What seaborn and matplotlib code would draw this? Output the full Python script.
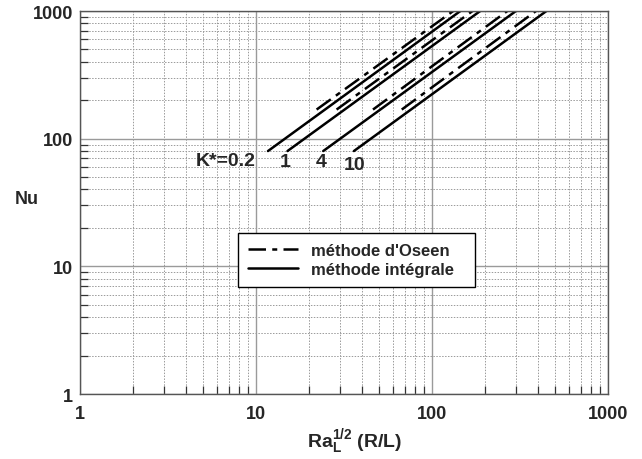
import matplotlib
matplotlib.use("Agg")
import matplotlib.pyplot as plt
import seaborn as sns
import pandas as pd
from matplotlib.lines import Line2D
from matplotlib.ticker import LogLocator, FixedLocator, NullFormatter

# ---- data (line end points) ----
k_labels = ["0.2", "1", "4", "10"]
# méthode intégrale (solid)
int_x_start = [11.7, 15.1, 24.1, 36.0]
int_nu_start = [80, 80, 80, 80]
int_x_end = [145, 188, 300, 447]
int_nu_end = [1000, 1000, 1000, 1000]
# méthode d'Oseen (dash-dot)
os_x_start = [22.1, 28.7, 46.2, 67.3]
os_nu_start = [169, 169, 169, 169]
os_x_end = [132, 170, 268, 390]
os_nu_end = [1000, 1000, 1000, 1000]

label_texts = ["K*=0.2", "1", "4", "10"]
label_x = [6.7, 14.6, 23.4, 36.5]
label_y = [68, 66, 66, 63]

rows = []
for i, k in enumerate(k_labels):
    rows.append(dict(x=int_x_start[i], Nu=int_nu_start[i], K=k, method="intégrale"))
    rows.append(dict(x=int_x_end[i], Nu=int_nu_end[i], K=k, method="intégrale"))
    rows.append(dict(x=os_x_start[i], Nu=os_nu_start[i], K=k, method="Oseen"))
    rows.append(dict(x=os_x_end[i], Nu=os_nu_end[i], K=k, method="Oseen"))
df = pd.DataFrame(rows)
df["unit"] = df["K"] + df["method"]

sns.set_theme(style="white")
plt.rcParams["font.family"] = ["Liberation Sans", "DejaVu Sans"]
plt.rcParams["font.weight"] = "bold"
plt.rcParams["mathtext.fontset"] = "custom"
plt.rcParams["mathtext.rm"] = "Liberation Sans:bold"
plt.rcParams["mathtext.bf"] = "Liberation Sans:bold"
plt.rcParams["mathtext.it"] = "Liberation Sans:bold"

fig = plt.figure(figsize=(6.42, 4.6), dpi=100)
ax = fig.add_axes([80 / 642, 1 - 395 / 460, 528 / 642, 383 / 460])

dash_os = (7, 2.5, 2, 2.5)
sns.lineplot(data=df, x="x", y="Nu", style="method", units="unit", estimator=None,
             dashes={"Oseen": dash_os, "intégrale": ""}, color="black",
             linewidth=1.8, legend=False, ax=ax, sort=False)

ax.set_xscale("log")
ax.set_yscale("log")
ax.set_xlim(1, 1000)
ax.set_ylim(1, 1000)

ax.xaxis.set_major_locator(FixedLocator([1, 10, 100, 1000]))
ax.yaxis.set_major_locator(FixedLocator([1, 10, 100, 1000]))
ax.set_xticklabels(["1", "10", "100", "1000"])
ax.set_yticklabels(["1", "10", "100", "1000"])
ax.xaxis.set_minor_locator(LogLocator(base=10, subs=range(2, 10)))
ax.yaxis.set_minor_locator(LogLocator(base=10, subs=range(2, 10)))
ax.xaxis.set_minor_formatter(NullFormatter())
ax.yaxis.set_minor_formatter(NullFormatter())

ax.grid(True, which="major", color="#9a9a9a", linewidth=1.0, linestyle="-")
ax.grid(True, which="minor", color="#9a9a9a", linewidth=0.7, linestyle=(0, (1.5, 1.5)))
ax.set_axisbelow(True)

ax.tick_params(which="major", direction="in", length=0, labelsize=13)
ax.tick_params(axis="x", which="major", pad=8)
ax.tick_params(axis="y", which="major", pad=5)
ax.tick_params(which="minor", direction="in", length=6, width=0.9, color="#333333",
               left=True, bottom=True)
for lab in ax.get_xticklabels() + ax.get_yticklabels():
    lab.set_fontweight("bold")

for s in ax.spines.values():
    s.set_color("#555555")
    s.set_linewidth(1.0)

ax.set_ylabel("Nu", rotation=0, fontsize=13, fontweight="bold", va="center", ha="center")
ax.yaxis.set_label_coords(-0.1, 0.51)
ax.set_xlabel(r"$\mathbf{Ra}_{\mathbf{L}}^{\mathbf{1/2}}$ (R/L)", fontsize=14,
              fontweight="bold", labelpad=3)
ax.xaxis.set_label_coords(0.52, -0.085)

for t, xx, yy in zip(label_texts, label_x, label_y):
    ax.text(xx, yy, t, fontsize=14, fontweight="bold", ha="center", va="center")

handles = [Line2D([], [], color="black", lw=1.8, linestyle=(0, dash_os)),
           Line2D([], [], color="black", lw=1.8, linestyle="-")]
leg = ax.legend(handles, ["méthode d'Oseen", "méthode intégrale"],
                loc="center", bbox_to_anchor=(0.299, 0.274, 0.449, 0.152),
                mode="expand", frameon=True, fancybox=False, framealpha=1,
                edgecolor="black", prop=dict(size=12, weight="bold"),
                handlelength=3.0, borderaxespad=0, labelspacing=0.2,
                borderpad=0.6)
leg.get_frame().set_linewidth(1.0)

fig.savefig("out.png", dpi=100)
